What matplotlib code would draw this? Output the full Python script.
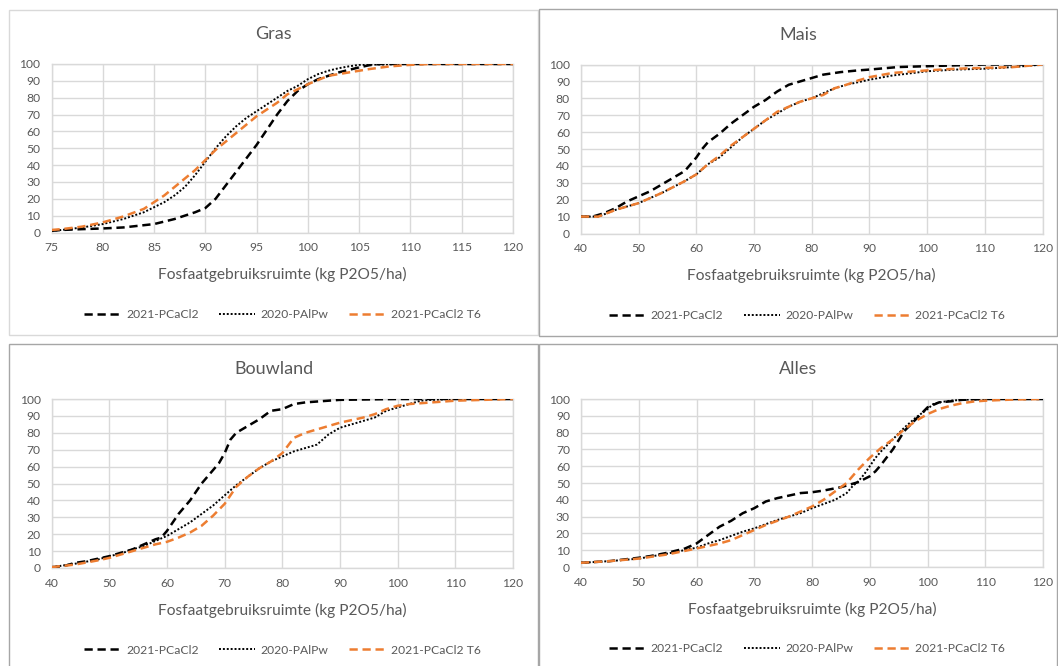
import matplotlib
matplotlib.use("Agg")
import matplotlib.pyplot as plt
from matplotlib.patches import Rectangle

plt.rcParams['font.family'] = ['Lato', 'DejaVu Sans']

# ---------------- data ----------------
series_names = ["2021-PCaCl2", "2020-PAlPw", "2021-PCaCl2 T6"]
panel_titles = ["Gras", "Mais", "Bouwland", "Alles"]
x_label = "Fosfaatgebruiksruimte (kg P2O5/ha)"

# Gras
gras_cacl2_x = [75, 76, 78, 80, 82, 85, 87, 88, 89, 90, 91, 92, 93, 94, 95, 96, 97, 98, 99, 100, 101, 102, 103, 104, 105, 106, 107, 110, 120]
gras_cacl2_y = [1, 1.5, 2, 2.4, 3, 5, 8, 10, 12, 14.5, 20, 28, 36, 44, 52, 61, 70, 78, 84, 88, 91, 93, 95, 96.5, 98, 99.3, 100, 100, 100]
gras_alpw_x = [75, 76, 78, 80, 82, 84, 85, 86, 87, 88, 89, 90, 91, 92, 93, 94, 95, 96, 97, 98, 99, 100, 101, 102, 103, 104, 105, 110, 120]
gras_alpw_y = [1, 1.5, 3, 5, 8, 12, 15, 18, 22, 27, 34, 42, 50, 57, 63, 68, 72, 76, 80, 84, 87, 91, 94, 96, 97.5, 98.6, 99.5, 100, 100]
gras_t6_x = [75, 76, 78, 80, 82, 84, 85, 86, 87, 88, 89, 90, 91, 92, 93, 94, 95, 96, 97, 98, 99, 100, 102, 104, 106, 108, 110, 112, 120]
gras_t6_y = [1.5, 2, 3.5, 6, 9.5, 14, 18, 22, 27, 32, 37, 43, 49, 54, 59, 64, 69, 73, 77, 82, 85, 88, 93, 95, 97, 98.6, 99.5, 100, 100]

# Mais
mais_cacl2_x = [40, 42, 44, 46, 48, 50, 52, 54, 56, 58, 60, 61, 62, 64, 66, 68, 70, 72, 74, 76, 78, 80, 82, 85, 88, 90, 95, 100, 105, 110, 120]
mais_cacl2_y = [10, 10, 12, 15, 19, 22, 25, 29, 33, 37, 45, 50, 54, 59, 65, 70, 75, 79, 84, 88, 90, 92, 94, 95.5, 96.5, 97, 98.5, 99, 99.5, 100, 100]
mais_alpw_x = [40, 43, 46, 50, 54, 58, 60, 62, 64, 66, 68, 70, 72, 74, 76, 78, 80, 82, 84, 86, 88, 90, 94, 100, 105, 110, 115, 120]
mais_alpw_y = [10, 10, 14, 18, 24, 31, 35, 41, 45, 51, 57, 62, 67, 71, 75, 78, 80, 83, 86, 88, 89.5, 91, 93.5, 96, 97, 97.5, 98.5, 100]
mais_t6_x = [40, 43, 46, 50, 54, 58, 60, 62, 64, 66, 68, 70, 72, 74, 76, 78, 80, 82, 84, 86, 88, 90, 94, 100, 105, 110, 115, 120]
mais_t6_y = [10, 10, 14, 18, 24, 31, 35, 41, 46, 52, 57, 62, 67, 72, 75, 78, 80, 82, 86, 88, 90.5, 92.5, 95, 96.5, 97.5, 98, 98.5, 100]

# Bouwland
bouw_cacl2_x = [40, 42, 44, 46, 48, 50, 52, 54, 56, 58, 59, 60, 62, 64, 66, 68, 69, 70, 71, 72, 74, 76, 78, 80, 82, 84, 88, 90, 100, 110, 120]
bouw_cacl2_y = [0.5, 1, 3, 4, 5.5, 7, 9, 11, 14, 17, 18, 22, 32, 40, 50, 58, 62, 68, 76, 80, 84, 88, 93, 94, 97, 98, 99, 99.5, 100, 100, 100]
bouw_alpw_x = [40, 44, 48, 50, 52, 54, 56, 58, 60, 62, 64, 66, 68, 70, 72, 74, 76, 78, 80, 82, 84, 86, 88, 90, 92, 94, 96, 98, 100, 102, 104, 106, 110, 120]
bouw_alpw_y = [0.5, 2.5, 5, 7, 8.5, 11, 13, 16, 19, 23, 27, 32, 37, 43, 49, 54, 59, 63, 66, 69, 71, 73, 79, 83, 85, 87, 89, 93, 95, 97, 99, 99.5, 100, 100]
bouw_t6_x = [40, 44, 48, 50, 52, 54, 56, 58, 60, 62, 64, 66, 68, 70, 72, 74, 76, 78, 80, 82, 84, 86, 88, 90, 94, 96, 98, 100, 102, 106, 110, 120]
bouw_t6_y = [0.5, 2, 4.5, 6, 8, 10, 12, 14, 15.5, 18, 21, 25, 31, 38, 48, 54, 59, 63, 68, 77, 80, 82, 84, 86, 89, 91, 94, 96, 97, 98, 99, 100]

# Alles
alles_cacl2_x = [40, 45, 50, 52, 55, 58, 60, 62, 64, 66, 68, 70, 72, 74, 76, 78, 80, 82, 85, 88, 90, 91, 92, 94, 96, 98, 100, 102, 104, 106, 110, 120]
alles_cacl2_y = [2.5, 3.5, 5.5, 6.5, 8.5, 11, 14, 19, 24, 27.5, 32, 35, 39, 41, 42.5, 44, 44.5, 45.5, 47.5, 50.5, 54, 57, 61, 70, 81, 88, 95, 98, 98.6, 99.5, 100, 100]
alles_alpw_x = [40, 45, 50, 55, 60, 62, 64, 66, 68, 70, 72, 74, 76, 78, 80, 82, 84, 86, 87, 88, 89, 90, 91, 92, 94, 96, 98, 100, 101, 102, 104, 106, 110, 120]
alles_alpw_y = [2.5, 3.5, 5, 8, 11.5, 14, 16, 18.5, 21, 23, 25.5, 28, 30, 32, 35, 37.5, 40, 44, 48, 51, 55, 60, 65, 69, 76, 83, 89, 94, 97, 98, 99, 99.5, 100, 100]
alles_t6_x = [40, 45, 50, 55, 60, 62, 64, 66, 68, 70, 72, 74, 76, 78, 80, 82, 84, 86, 88, 90, 92, 94, 96, 98, 100, 102, 104, 106, 108, 110, 115, 120]
alles_t6_y = [2.5, 3.5, 5, 7.5, 11, 12.5, 14, 16, 19, 22, 25, 27.5, 30, 33, 36, 40, 45, 50, 58, 65, 71, 76, 82, 87, 91, 94, 96, 97.5, 98.5, 99, 99.7, 100]

x_limits = [(75, 120), (40, 120), (40, 120), (40, 120)]
x_steps = [5, 10, 10, 10]
y_ticks = list(range(0, 101, 10))

panels = [
    [(gras_cacl2_x, gras_cacl2_y), (gras_alpw_x, gras_alpw_y), (gras_t6_x, gras_t6_y)],
    [(mais_cacl2_x, mais_cacl2_y), (mais_alpw_x, mais_alpw_y), (mais_t6_x, mais_t6_y)],
    [(bouw_cacl2_x, bouw_cacl2_y), (bouw_alpw_x, bouw_alpw_y), (bouw_t6_x, bouw_t6_y)],
    [(alles_cacl2_x, alles_cacl2_y), (alles_alpw_x, alles_alpw_y), (alles_t6_x, alles_t6_y)],
]

# ---------------- layout (pixels) ----------------
W, H = 1058, 666
fig = plt.figure(figsize=(W / 100, H / 100), dpi=100)
fig.patch.set_facecolor("white")

def fx(px):
    return px / W

def fy(py):
    return 1 - py / H

# chart frames (left, top, right, bottom) and colours
frames = [((9, 10, 538, 335), "#d9d9d9"),
          ((539, 9, 1057, 336), "#a6a6a6"),
          ((9, 344, 538, 700), "#a6a6a6"),
          ((539, 344, 1057, 700), "#a6a6a6")]
# plot areas (left, top, right, bottom)
plot_areas = [(51.5, 64, 513, 232.5),
              (581, 64.5, 1042.5, 233.5),
              (51.7, 399, 513, 568),
              (581, 399, 1043, 567)]

for (l, t, r, b), col in frames:
    fig.patches.append(Rectangle((fx(l), fy(b)), fx(r - l), (b - t) / H,
                                 transform=fig.transFigure, fill=False,
                                 edgecolor=col, linewidth=1.0, zorder=0))

styles = [dict(color="black", lw=1.8, dashes=(3.3, 1.9)),
          dict(color="black", lw=1.4, dashes=(1.0, 1.0)),
          dict(color="#ED7D31", lw=1.8, dashes=(3.3, 1.9))]

text_col = "#595959"
grid_col = "#d9d9d9"

for i, ((l, t, r, b), (fl, ft, fr, fb)) in enumerate(zip(plot_areas, [f[0] for f in frames])):
    ax = fig.add_axes([fx(l), fy(b), fx(r - l), (b - t) / H])
    handles = []
    for (xs, ys), st, name in zip(panels[i], styles, series_names):
        ln, = ax.plot(xs, ys, color=st["color"], lw=st["lw"], dashes=st["dashes"],
                      label=name, zorder=3)
        handles.append(ln)
    x0, x1 = x_limits[i]
    ax.set_xlim(x0, x1)
    ax.set_ylim(0, 100)
    ax.set_xticks(list(range(x0, x1 + 1, x_steps[i])))
    ax.set_yticks(y_ticks)
    ax.grid(True, color=grid_col, lw=1.0, zorder=0)
    for sp in ax.spines.values():
        sp.set_color(grid_col)
        sp.set_linewidth(1.0)
    ax.tick_params(length=0, labelsize=8.7, colors=text_col, pad=7)
    ax.tick_params(axis="y", pad=8)
    ax.set_axisbelow(True)
    fr_r = min(fr, W)
    # title centred on chart frame
    fig.text(fx((fl + fr_r) / 2), fy(t - 30), panel_titles[i], ha="center", va="center",
             fontsize=13, color=text_col)
    # x label centred on plot area
    fig.text(fx((l + r) / 2), fy(b + 42), x_label, ha="center", va="center",
             fontsize=11.2, color=text_col)
    # legend
    fig.legend(handles=handles, labels=series_names, loc="center",
               bbox_to_anchor=(fx((fl + fr_r) / 2 + 9), fy(b + 82)),
               ncol=3, frameon=False, fontsize=8.7, labelcolor=text_col,
               handlelength=3.0, handletextpad=0.45, columnspacing=1.7)

fig.savefig("out.png", dpi=100)
